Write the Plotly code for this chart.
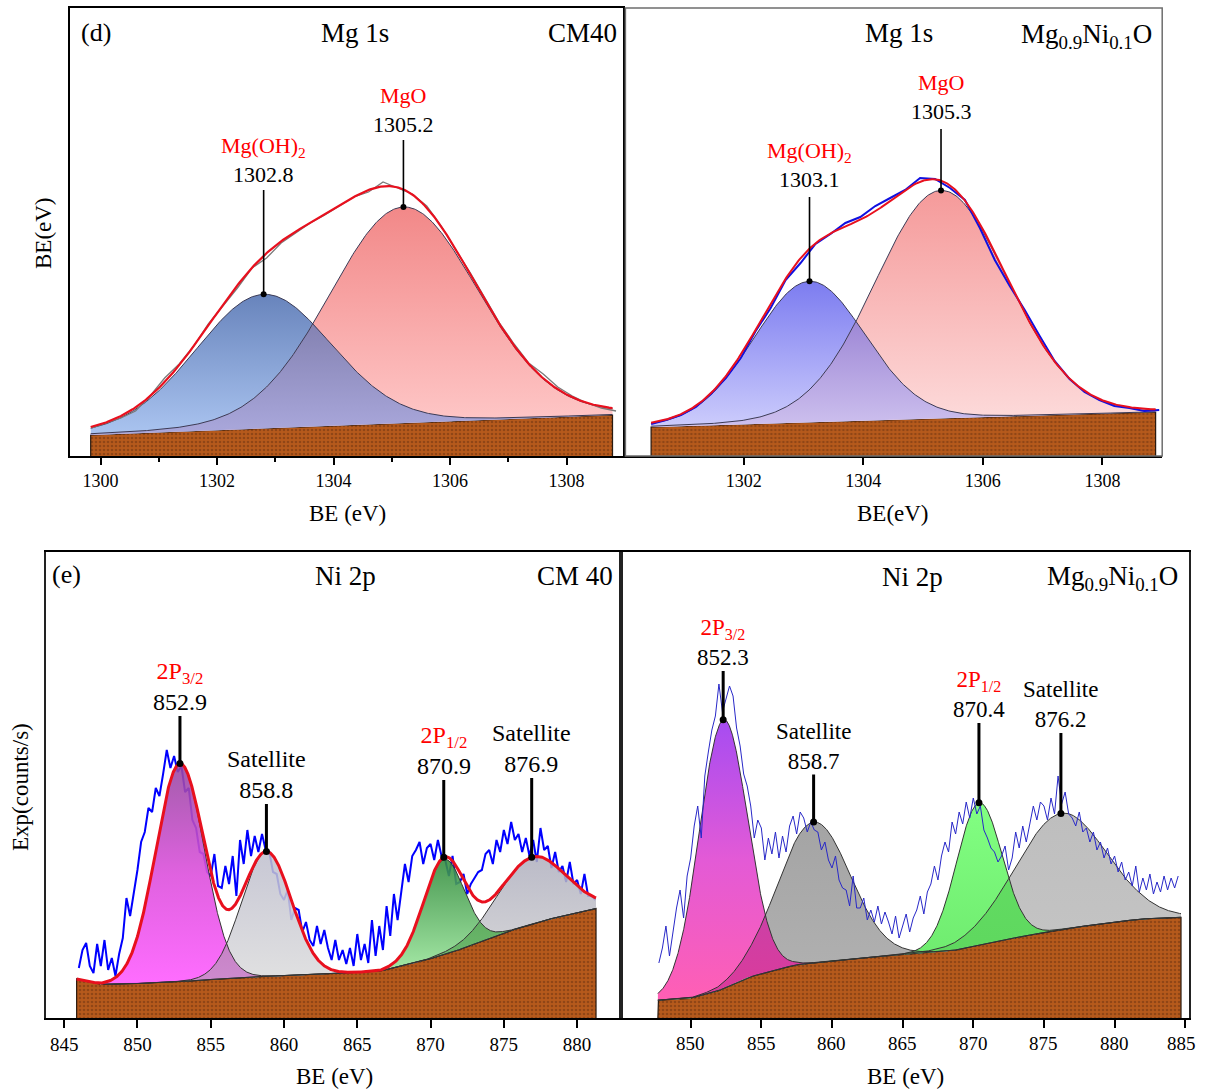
import numpy as np
import plotly.graph_objects as go

# ======================= DATA =======================
# ---- (d) Mg 1s, CM40 ----
mgA_bg_energy = [1299.83, 1308.79]
mgA_bg_level = [23, 43]
mgA_names = ["Mg(OH)<sub>2</sub>", "MgO"]
mgA_values = ["1302.8", "1305.2"]
mgA_center = [1302.8, 1305.2]
mgA_height = [134, 216]
mgA_fwhm = [2.75, 3.0]
mgA_exp_start = 1299.85
mgA_exp_step = 0.25
mgA_exp = [30, 35, 40, 47, 62, 80, 94, 112, 134, 152, 170, 190, 200, 215, 225,
           235, 243, 252, 261, 266, 276, 270, 264, 252, 232, 208, 185, 160, 135,
           114, 95, 84, 71, 62, 55, 50, 47]

# ---- Mg 1s, Mg0.9Ni0.1O ----
mgB_bg_energy = [1300.45, 1308.9]
mgB_bg_level = [31, 46]
mgB_names = ["Mg(OH)<sub>2</sub>", "MgO"]
mgB_values = ["1303.1", "1305.3"]
mgB_center = [1303.1, 1305.3]
mgB_height = [141, 228]
mgB_fwhm = [2.2, 2.6]
mgB_exp_start = 1300.45
mgB_exp_step = 0.25
mgB_exp = [34, 38, 43, 51, 64, 80, 100, 127, 150, 178, 195, 214, 224, 235, 241,
           252, 260, 268, 280, 279, 270, 258, 230, 198, 172, 148, 122, 97, 79, 66,
           58, 52, 50, 47, 48]

# ---- (e) Ni 2p, CM 40 ----
niA_bg_energy = [845.85, 847.5, 849.9, 853.8, 857.1, 862.5, 866.6, 869.4, 872.1, 874.9, 877.6, 881.3]
niA_bg_level = [39, 33.7, 34.4, 37.2, 40.8, 43.6, 47.1, 56.6, 69, 84.8, 97.2, 109.5]
niA_names = ["2P<sub>3/2</sub>", "Satellite", "2P<sub>1/2</sub>", "Satellite"]
niA_values = ["852.9", "858.8", "870.9", "876.9"]
niA_center = [852.9, 858.8, 870.9, 876.9]
niA_height = [217.6, 124.5, 95, 66.7]
niA_fwhm = [3.9, 4.0, 3.3, 5.4]
niA_exp_start = 846.0
niA_exp_step = 0.25
niA_exp = [50, 68, 75, 52, 45, 74, 52, 78, 48, 60, 42, 64,
           80, 120, 102, 124, 148, 176, 186, 210, 206, 230, 222, 244,
           268, 250, 262, 246, 252, 226, 230, 198, 190, 166, 164, 146,
           142, 164, 132, 130, 152, 134, 162, 122, 178, 154, 188, 162,
           182, 166, 184, 168, 166, 146, 144, 124, 118, 128, 98, 110,
           108, 86, 96, 78, 72, 92, 74, 88, 70, 58, 78, 58,
           68, 54, 70, 52, 84, 58, 74, 55, 98, 62, 92, 68,
           112, 82, 124, 98, 128, 154, 136, 162, 168, 176, 154, 170,
           174, 158, 178, 162, 158, 142, 162, 134, 136, 144, 124, 134,
           140, 146, 148, 164, 168, 154, 178, 166, 188, 174, 196, 178,
           184, 166, 180, 162, 178, 156, 190, 168, 172, 150, 166, 146,
           152, 136, 156, 134, 138, 124, 144, 122, 122, 118]

# ---- Ni 2p, Mg0.9Ni0.1O ----
niB_bg_energy = [847.68, 849.94, 851.88, 854.1, 857.4, 860.7, 865.2, 868.5, 871.3, 876.8, 881.8, 884.7]
niB_bg_level = [17.8, 19.6, 26.7, 40.8, 53.1, 58.4, 63.7, 67.2, 76, 90.1, 99, 100.7]
niB_names = ["2P<sub>3/2</sub>", "Satellite", "2P<sub>1/2</sub>", "Satellite"]
niB_values = ["852.3", "858.7", "870.4", "876.2"]
niB_center = [852.3, 858.7, 870.4, 876.2]
niB_height = [268.8, 140.7, 142, 116]
niB_fwhm = [4.0, 6.0, 3.8, 7.6]
niB_exp_start = 847.75
niB_exp_step = 0.25
niB_exp = [55,
           70, 92, 62, 86, 110, 128, 100, 142, 160, 192, 212, 180,
           242, 266, 288, 302, 334, 306, 318, 332, 322, 290, 272, 244,
           232, 212, 180, 198, 190, 158, 180, 164, 186, 160, 182, 166,
           192, 202, 184, 206, 200, 186, 196, 188, 186, 168, 176, 158,
           150, 162, 138, 130, 128, 112, 142, 110, 110, 120, 98, 108,
           96, 112, 94, 106, 96, 84, 102, 80, 92, 104, 86, 100,
           108, 122, 104, 126, 134, 152, 138, 162, 176, 166, 196, 184,
           206, 194, 216, 200, 220, 204, 212, 188, 180, 170, 166, 156,
           162, 172, 148, 160, 186, 170, 192, 176, 194, 212, 198, 216,
           212, 198, 220, 204, 242, 214, 226, 204, 200, 192, 206, 186,
           190, 176, 186, 168, 176, 160, 170, 154, 162, 146, 156, 138,
           146, 132, 152, 126, 140, 128, 144, 124, 136, 126, 142, 128,
           140, 130, 142]
niB_ticks = [850, 855, 860, 865, 870, 875, 880, 885]

# ======================= STYLE / LAYOUT =======================
W, H = 1198, 1090
SERIF = "Liberation Serif"
RED_TXT = "#ff0000"


def px_x(p):
    return p / W


def px_y(p):
    return 1 - p / H


panels = {
    "A": dict(xa="x", ya="y", xdom=[70, 623], ydom=[8, 456], xrange=[1299.475, 1308.97], yrange=[2, 450]),
    "B": dict(xa="x2", ya="y2", xdom=[625.4, 1162.2], ydom=[8, 456], xrange=[1300.02, 1309.0], yrange=[2, 450]),
    "C": dict(xa="x3", ya="y3", xdom=[46, 620.5], ydom=[552, 1018], xrange=[843.76, 882.96], yrange=[0, 466]),
    "D": dict(xa="x4", ya="y4", xdom=[621, 1188.5], ydom=[552, 1018], xrange=[845.07, 885.23], yrange=[0, 466]),
}


def pv(x, c, h, w, eta):
    g = np.exp(-4 * np.log(2) * ((x - c) / w) ** 2)
    lo = 1.0 / (1.0 + 4 * ((x - c) / w) ** 2)
    return h * ((1 - eta) * g + eta * lo)


fig = go.Figure()


def add(tr, key):
    tr.update(xaxis=panels[key]["xa"], yaxis=panels[key]["ya"], showlegend=False, hoverinfo="skip")
    fig.add_trace(tr)


BROWN = "#b65a1c"


def build_panel(key, bg_e, bg_l, centers, heights, fwhms, eta, fill_scales, overlap_pairs,
                exp_start, exp_step, exp_vals, exp_style, exp_before, envelope_style,
                outline_color, names, name_colors, values, line_tops, label_font, line_gap,
                line_w, marker_size, marker_on_env):
    grid = np.arange(bg_e[0], bg_e[-1] + 1e-9, 0.02)
    bg = np.interp(grid, bg_e, bg_l)
    comps = [pv(grid, c, h, w, eta) for c, h, w in zip(centers, heights, fwhms)]
    env = bg + np.sum(comps, axis=0)

    add(go.Scatter(x=np.concatenate([[grid[0]], grid, [grid[-1]]]),
                   y=np.concatenate([[0], bg, [0]]),
                   fill="toself", fillcolor=BROWN, mode="lines",
                   line=dict(color="#2a1a10", width=1.2),
                   fillpattern=dict(shape=".", fgcolor="#6a3210", bgcolor=BROWN, size=4,
                                    solidity=0.35, fillmode="overlay")), key)

    ex = exp_start + exp_step * np.arange(len(exp_vals))
    if exp_before:
        add(go.Scatter(x=ex, y=exp_vals, mode="lines", line=exp_style), key)

    for comp, sc in zip(comps, fill_scales):
        add(go.Scatter(x=np.concatenate([grid, grid[::-1]]),
                       y=np.concatenate([bg + comp, bg[::-1]]),
                       fill="toself", mode="lines", line=dict(width=0),
                       fillgradient=dict(type="vertical", colorscale=sc)), key)
    for (i, j, sc) in overlap_pairs:
        m = np.minimum(comps[i], comps[j])
        add(go.Scatter(x=np.concatenate([grid, grid[::-1]]),
                       y=np.concatenate([bg + m, bg[::-1]]),
                       fill="toself", mode="lines", line=dict(width=0),
                       fillgradient=dict(type="vertical", colorscale=sc)), key)
    for comp in comps:
        add(go.Scatter(x=grid, y=bg + comp, mode="lines",
                       line=dict(color=outline_color, width=1)), key)

    if not exp_before:
        add(go.Scatter(x=ex, y=exp_vals, mode="lines", line=exp_style), key)
    if envelope_style is not None:
        add(go.Scatter(x=grid, y=env, mode="lines", line=envelope_style), key)

    xa = panels[key]["xa"]
    ya = panels[key]["ya"]
    for k, c in enumerate(centers):
        bgc = np.interp(c, bg_e, bg_l)
        if marker_on_env:
            top = bgc + sum(pv(c, cc, hh, ww, eta) for cc, hh, ww in zip(centers, heights, fwhms))
        else:
            top = bgc + pv(c, c, heights[k], fwhms[k], eta)
        lt = line_tops[k]
        add(go.Scatter(x=[c, c], y=[top, lt], mode="lines",
                       line=dict(color="black", width=line_w)), key)
        add(go.Scatter(x=[c], y=[top], mode="markers",
                       marker=dict(color="black", size=marker_size)), key)
        txt = "<span style='color:%s'>%s</span><br>%s" % (name_colors[k], names[k], values[k])
        fig.add_annotation(x=c, y=lt, xref=xa, yref=ya, text=txt, showarrow=False,
                           font=dict(family=SERIF, size=label_font, color="black"),
                           xanchor="center", yanchor="bottom", yshift=line_gap,
                           borderpad=0)


build_panel("A", mgA_bg_energy, mgA_bg_level, mgA_center, mgA_height, mgA_fwhm, 0.08,
            fill_scales=[[[0, "#aac4f0"], [1, "#6884bc"]], [[0, "#ffcaca"], [1, "#f28888"]]],
            overlap_pairs=[(0, 1, [[0, "#aaa8dc"], [1, "#8482b2"]])],
            exp_start=mgA_exp_start, exp_step=mgA_exp_step, exp_vals=mgA_exp,
            exp_style=dict(color="#7a7a7a", width=1.3), exp_before=False,
            envelope_style=dict(color="#e8101e", width=2.2), outline_color="#3a3a55",
            names=mgA_names, name_colors=[RED_TXT, RED_TXT], values=mgA_values,
            line_tops=[268, 318], label_font=22, line_gap=2,
            line_w=1.6, marker_size=6, marker_on_env=False)

build_panel("B", mgB_bg_energy, mgB_bg_level, mgB_center, mgB_height, mgB_fwhm, 0.05,
            fill_scales=[[[0, "#ccccfc"], [1, "#7c7cf0"]], [[0, "#fddcdc"], [1, "#f59a9a"]]],
            overlap_pairs=[(0, 1, [[0, "#cdc0ee"], [1, "#9e88d6"]])],
            exp_start=mgB_exp_start, exp_step=mgB_exp_step, exp_vals=mgB_exp,
            exp_style=dict(color="#1010e0", width=2), exp_before=False,
            envelope_style=dict(color="#e8101e", width=2), outline_color="#3a3a55",
            names=mgB_names, name_colors=[RED_TXT, RED_TXT], values=mgB_values,
            line_tops=[261, 329], label_font=22, line_gap=4,
            line_w=1.6, marker_size=6, marker_on_env=False)

build_panel("C", niA_bg_energy, niA_bg_level, niA_center, niA_height, niA_fwhm, 0.0,
            fill_scales=[[[0, "rgba(255,96,255,0.92)"], [0.5, "rgba(220,80,220,0.9)"], [1, "rgba(150,70,160,0.88)"]],
                         [[0, "rgba(222,222,222,0.9)"], [1, "rgba(190,190,205,0.85)"]],
                         [[0, "rgba(168,240,168,0.92)"], [1, "rgba(50,140,60,0.88)"]],
                         [[0, "rgba(215,215,215,0.9)"], [1, "rgba(175,175,190,0.85)"]]],
            overlap_pairs=[(0, 1, [[0, "rgba(205,135,205,0.95)"], [1, "rgba(190,120,190,0.95)"]]),
                           (2, 3, [[0, "rgba(110,190,110,0.95)"], [1, "rgba(90,170,90,0.95)"]])],
            exp_start=niA_exp_start, exp_step=niA_exp_step, exp_vals=niA_exp,
            exp_style=dict(color="#0000ff", width=2), exp_before=True,
            envelope_style=dict(color="#e8101e", width=3), outline_color="#333333",
            names=niA_names, name_colors=[RED_TXT, "black", RED_TXT, "black"], values=niA_values,
            line_tops=[302, 214, 238, 240], label_font=24, line_gap=0,
            line_w=3, marker_size=7, marker_on_env=True)

build_panel("D", niB_bg_energy, niB_bg_level, niB_center, niB_height, niB_fwhm, 0.0,
            fill_scales=[[[0, "#ff5fb4"], [0.5, "#e35ad6"], [1, "#a64cf2"]],
                         [[0, "#b2b2b2"], [1, "#a4a4a4"]],
                         [[0, "#6ae66a"], [1, "#82ff82"]],
                         [[0, "#c6c6c6"], [1, "#bebebe"]]],
            overlap_pairs=[(0, 1, [[0, "#dc3a9a"], [1, "#cc40a6"]]),
                           (2, 3, [[0, "#5cd45c"], [1, "#62dc62"]]),
                           (1, 2, [[0, "#66c066"], [1, "#66c066"]])],
            exp_start=niB_exp_start, exp_step=niB_exp_step, exp_vals=niB_exp,
            exp_style=dict(color="#2828c8", width=1), exp_before=False,
            envelope_style=None, outline_color="#333333",
            names=niB_names, name_colors=[RED_TXT, "black", RED_TXT, "black"], values=niB_values,
            line_tops=[347, 243.5, 295, 285], label_font=23, line_gap=0,
            line_w=3, marker_size=7, marker_on_env=False)

# ---- axes ----
axis_common = dict(showgrid=False, zeroline=False, ticks="outside",
                   tickfont=dict(family=SERIF, size=18, color="black"),
                   tickcolor="black")
lay = {}
for key, p in panels.items():
    n = p["xa"][1:]
    xd = [px_x(p["xdom"][0]), px_x(p["xdom"][1])]
    yd = [px_y(p["ydom"][1]), px_y(p["ydom"][0])]
    lay["xaxis" + n] = dict(domain=xd, range=p["xrange"], anchor=p["ya"], **axis_common)
    lay["yaxis" + n] = dict(domain=yd, range=p["yrange"], anchor=p["xa"], showgrid=False,
                            zeroline=False, showticklabels=False, ticks="")

lay["xaxis"].update(tickvals=[1300, 1302, 1304, 1306, 1308], ticklen=7, tickwidth=1.5,
                    showline=True, linecolor="black", linewidth=2, mirror=True,
                    minor=dict(tickvals=[1301, 1303, 1305, 1307], ticklen=4, ticks="outside",
                               tickcolor="black", tickwidth=1.5))
lay["yaxis"].update(showline=True, linecolor="black", linewidth=2, mirror=True)
lay["xaxis2"].update(tickvals=[1302, 1304, 1306, 1308], ticklen=7, tickwidth=1.5,
                     showline=True, linecolor="black", linewidth=2)
lay["yaxis2"].update(showline=False)
lay["xaxis3"].update(tickvals=[845, 850, 855, 860, 865, 870, 875, 880], ticklen=8, tickwidth=1.5,
                     showline=True, linecolor="black", linewidth=2, mirror=True,
                     tickfont=dict(family=SERIF, size=19, color="black"))
lay["yaxis3"].update(showline=True, linecolor="#222222", linewidth=2, mirror=True)
# bottom-right: tick marks from the axis, labels as annotations so the last one stays inside the page
lay["xaxis4"].update(tickvals=niB_ticks, ticklen=8, tickwidth=1.5, showticklabels=False,
                     showline=True, linecolor="black", linewidth=2, mirror=True)
lay["yaxis4"].update(showline=True, linecolor="#222222", linewidth=2, mirror=True)

fig.update_layout(width=W, height=H, margin=dict(l=0, r=0, t=0, b=0),
                  paper_bgcolor="white", plot_bgcolor="rgba(0,0,0,0)", showlegend=False, **lay)

for t in niB_ticks:
    fig.add_annotation(x=t, xref="x4", y=px_y(1043), yref="paper", text=str(t), showarrow=False,
                       xanchor="center", yanchor="middle", xshift=(-4 if t == niB_ticks[-1] else 0),
                       font=dict(family=SERIF, size=19, color="black"))

pB = panels["B"]
fig.add_shape(type="rect", xref="paper", yref="paper",
              x0=px_x(pB["xdom"][0]), x1=px_x(pB["xdom"][1]),
              y0=px_y(pB["ydom"][1]), y1=px_y(pB["ydom"][0]),
              line=dict(color="#6e6e6e", width=1.5))


def note(text, x, y, size, xanchor="center", angle=0, color="black"):
    fig.add_annotation(text=text, x=px_x(x), y=px_y(y), xref="paper", yref="paper",
                       showarrow=False, xanchor=xanchor, yanchor="middle", textangle=angle,
                       font=dict(family=SERIF, size=size, color=color))


note("(d)", 96, 33, 26)
note("Mg 1s", 355, 33, 27)
note("CM40", 619, 33, 27, xanchor="right")
note("Mg 1s", 899, 33, 27)
note("Mg<sub>0.9</sub>Ni<sub>0.1</sub>O", 1154, 36, 27, xanchor="right")
note("(e)", 66, 575, 26)
note("Ni 2p", 345, 576, 27)
note("CM 40", 615, 576, 27, xanchor="right")
note("Ni 2p", 913, 577, 27)
note("Mg<sub>0.9</sub>Ni<sub>0.1</sub>O", 1180, 578, 27, xanchor="right")

note("BE (eV)", 347, 513, 23)
note("BE(eV)", 893, 513, 23)
note("BE (eV)", 334, 1076, 23)
note("BE (eV)", 905, 1076, 23)
note("BE(eV)", 44, 233, 23, angle=-90)
note("Exp(counts/s)", 20, 787, 23, angle=-90)

fig.write_html("out.html")
